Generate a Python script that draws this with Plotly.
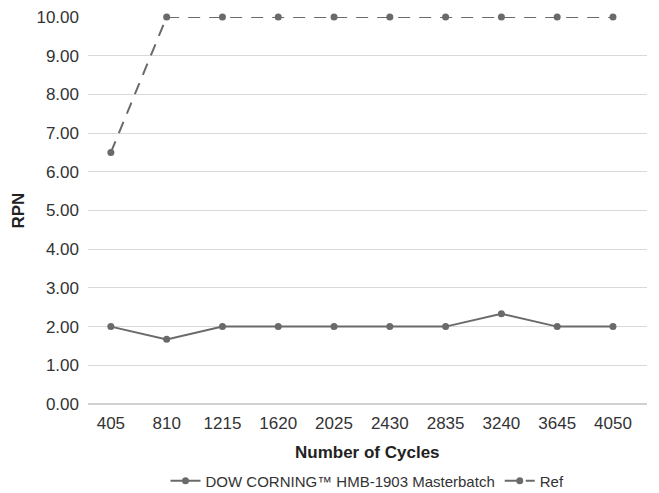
import plotly.graph_objects as go

cycles = [405, 810, 1215, 1620, 2025, 2430, 2835, 3240, 3645, 4050]
dow_values = [2.00, 1.67, 2.00, 2.00, 2.00, 2.00, 2.00, 2.33, 2.00, 2.00]
ref_values = [6.50, 10.00, 10.00, 10.00, 10.00, 10.00, 10.00, 10.00, 10.00, 10.00]
y_ticks = [0, 1, 2, 3, 4, 5, 6, 7, 8, 9, 10]

line_color = "#6a6a6a"
font_family = "Liberation Sans, Arial, sans-serif"

W, H = 659, 493
L, R, T, B = 88, 12, 17, 89
PW, PH = W - L - R, H - T - B

fig = go.Figure()
fig.add_trace(go.Scatter(
    x=cycles, y=dow_values, mode="lines+markers",
    name="DOW CORNING™ HMB-1903 Masterbatch",
    line=dict(color=line_color, width=2),
    marker=dict(color=line_color, size=7),
    cliponaxis=False,
))
fig.add_trace(go.Scatter(
    x=cycles, y=ref_values, mode="lines+markers",
    name="Ref",
    line=dict(color=line_color, width=2, dash="12px,9px"),
    marker=dict(color=line_color, size=7),
    cliponaxis=False,
))

fig.update_layout(
    width=W, height=H,
    margin=dict(l=L, r=R, t=T, b=B, autoexpand=False),
    paper_bgcolor="white", plot_bgcolor="white",
    font=dict(family=font_family, color="#333333", size=17),
    showlegend=True,
    legend=dict(orientation="h", x=0.5, xanchor="center",
                y=(H - B - 481) / PH, yanchor="middle",
                font=dict(size=15, color="#333333")),
    xaxis=dict(
        range=[239, 4297], automargin=False,
        tickmode="array", tickvals=cycles, ticktext=[str(c) for c in cycles],
        showgrid=False, zeroline=False, showline=False, ticks="",
        ticklabelstandoff=7,
        tickfont=dict(size=17, color="#333333"),
    ),
    yaxis=dict(
        range=[0, 10], automargin=False,
        tickmode="array", tickvals=y_ticks, ticktext=[f"{v:.2f}" for v in y_ticks],
        showgrid=True, gridcolor="#d9d9d9", gridwidth=1,
        zeroline=True, zerolinecolor="#d0d0d0", zerolinewidth=2,
        showline=False, ticks="",
        ticklabelstandoff=8,
        tickfont=dict(size=17, color="#333333"),
    ),
    annotations=[
        dict(text="<b>Number of Cycles</b>", xref="paper", yref="paper",
             x=0.5, y=(H - B - 452) / PH, xanchor="center", yanchor="middle",
             showarrow=False, font=dict(size=17, color="#222222")),
        dict(text="<b>RPN</b>", xref="paper", yref="paper",
             x=(18 - L) / PW, y=0.5, xanchor="center", yanchor="middle", textangle=-90,
             showarrow=False, font=dict(size=17, color="#222222")),
    ],
)

fig.write_html("out.html", config={"displayModeBar": False},
               post_script="document.body.style.margin='0';document.body.style.overflow='hidden';")
